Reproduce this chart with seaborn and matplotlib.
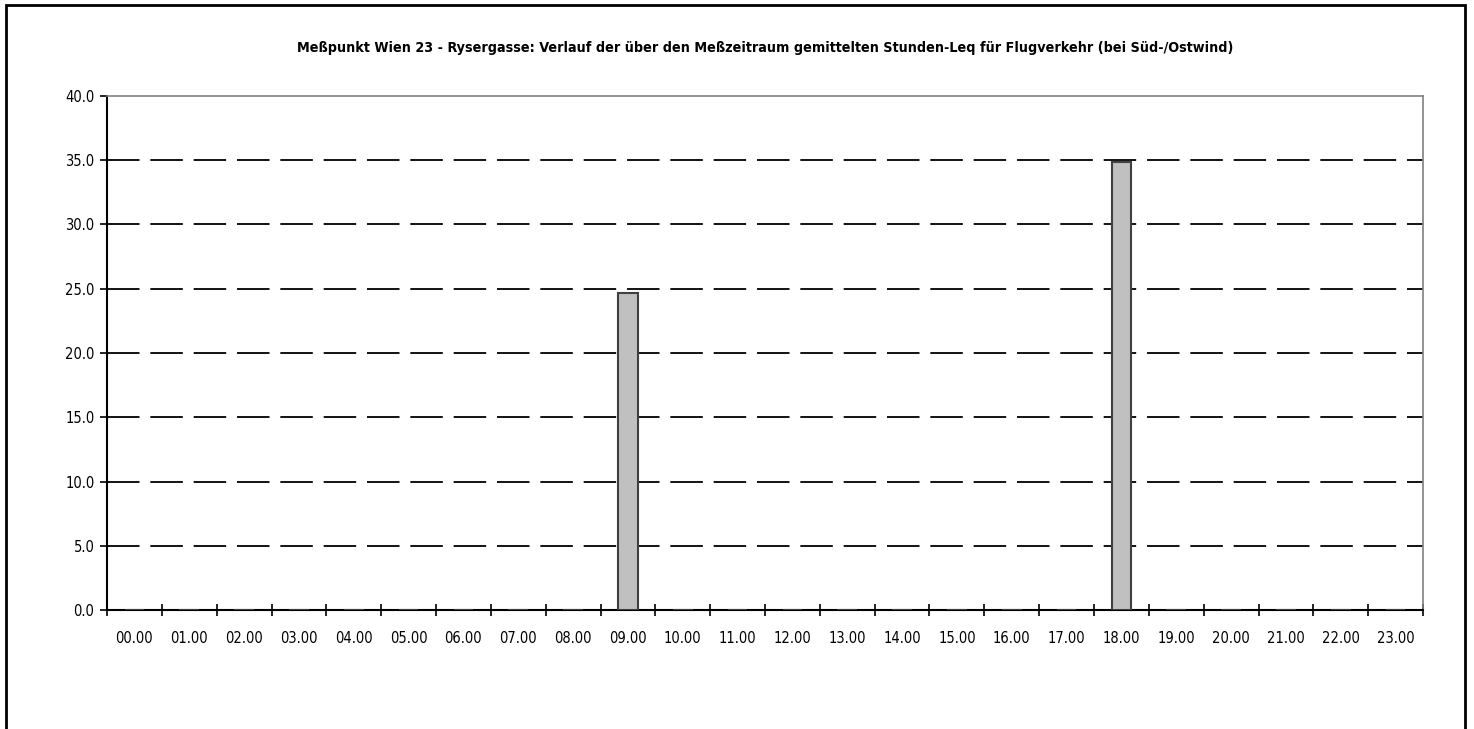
import numpy as np
import pandas as pd
import matplotlib
matplotlib.use("Agg")
import matplotlib.pyplot as plt
import seaborn as sns
from matplotlib.patches import Rectangle
from matplotlib.ticker import FixedLocator

hours = [f"{h:02d}.00" for h in range(24)]
leq = [0, 0, 0, 0, 0, 0, 0, 0, 0, 24.7, 0, 0, 0, 0, 0, 0, 0, 0, 34.9, 0, 0, 0, 0, 0]
y_ticks = [0, 5, 10, 15, 20, 25, 30, 35, 40]
title = ("Meßpunkt Wien 23 - Rysergasse: Verlauf der über den Meßzeitraum gemittelten "
         "Stunden-Leq für Flugverkehr (bei Süd-/Ostwind)")

sns.set_style("white")
plt.rcParams['font.family'] = ['DejaVu Sans']
plt.rcParams['font.stretch'] = 'condensed'
plt.rcParams['text.color'] = 'black'
plt.rcParams['xtick.color'] = 'black'
plt.rcParams['ytick.color'] = 'black'

df = pd.DataFrame({'Stunde': hours, 'Leq': leq})

fig = plt.figure(figsize=(14.74, 7.29), dpi=100)
ax = fig.add_axes([107 / 1474, 1 - 610 / 729, (1423 - 107) / 1474, (610 - 96) / 729])

sns.barplot(data=df, x='Stunde', y='Leq', color='#C0C0C0', edgecolor='#404040',
            linewidth=1.5, width=0.36, saturation=1, ax=ax, zorder=3)

ax.set_xlim(-0.5, 23.5)
ax.set_ylim(0, 40)
ax.set_yticks(y_ticks)
ax.set_yticklabels([f"{v:.1f}" for v in y_ticks], fontsize=10.5, fontstretch='condensed')
ax.set_xticks(range(24))
ax.set_xticklabels(hours, fontsize=10.5, fontstretch='condensed')
ax.set_xlabel('')
ax.set_ylabel('')

# dashed grid lines
for v in y_ticks[1:-1]:
    ax.axhline(v, color='black', linewidth=1.3, dashes=(18, 6), zorder=2)

# x tick labels centered, tick marks at category borders
ax.tick_params(axis='x', which='major', bottom=True, length=0, pad=15)
ax.xaxis.set_minor_locator(FixedLocator(np.arange(-0.5, 24, 1)))
ax.tick_params(axis='x', which='minor', bottom=True, direction='inout', length=9, width=1.2, color='black')
ax.tick_params(axis='y', left=True, direction='out', length=5, width=1.2, color='black', pad=4)

for side in ['left', 'bottom']:
    ax.spines[side].set_color('black')
    ax.spines[side].set_linewidth(1.5)
for side in ['top', 'right']:
    ax.spines[side].set_color('#808080')
    ax.spines[side].set_linewidth(1.2)

ax.set_title(title, fontsize=10.3, fontweight='bold', fontstretch='condensed', pad=32)

# outer chart border
fig.patches.append(Rectangle((6 / 1474, -0.05), (1465 - 6) / 1474, 1.05 - 5 / 729,
                             transform=fig.transFigure, fill=False,
                             edgecolor='black', linewidth=2))

fig.savefig('out.png', dpi=100)
